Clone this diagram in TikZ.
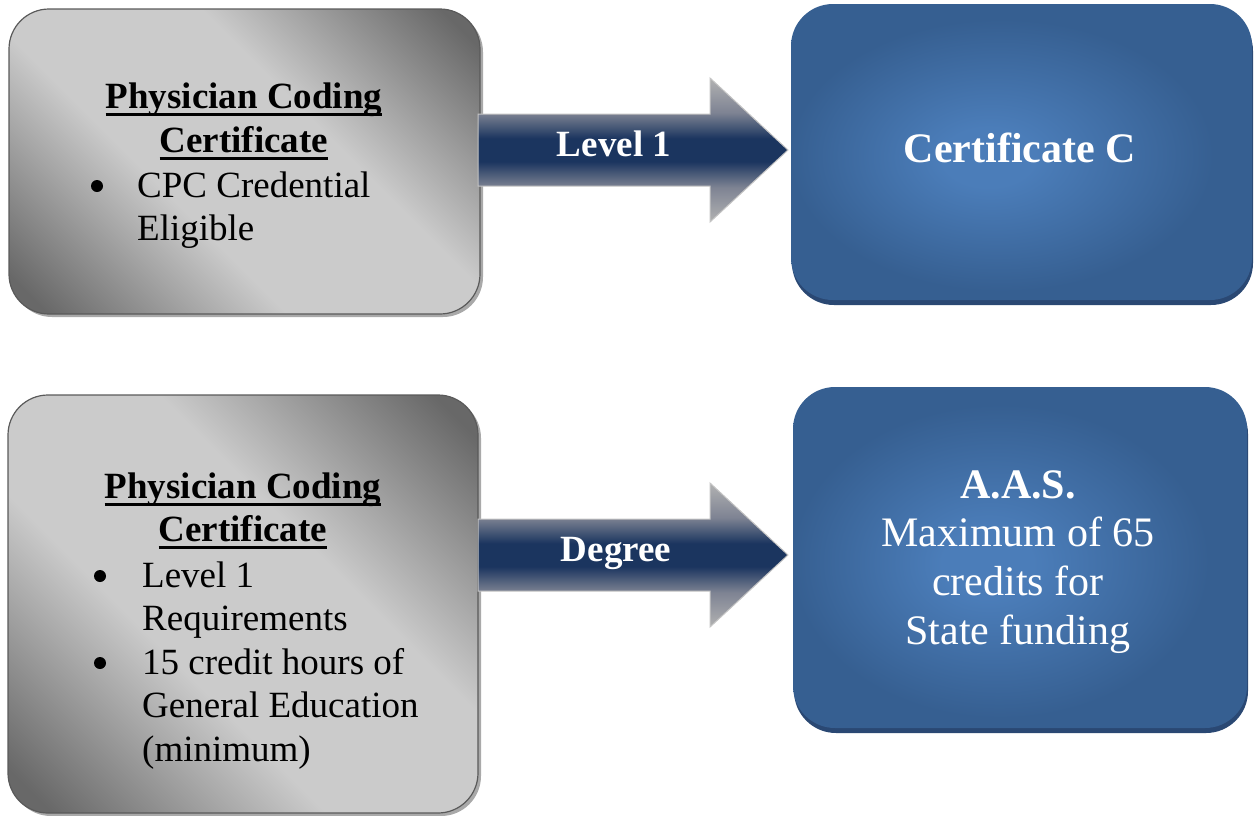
\documentclass[tikz,border=0pt]{standalone}
\usepackage{fontspec}
\setmainfont{Liberation Serif}
\usetikzlibrary{shadows}
\definecolor{gdark}{HTML}{686868}
\definecolor{glight}{HTML}{CBCBCB}
\definecolor{gborder}{HTML}{5A5A5A}
\definecolor{gshadow}{HTML}{A9A9A9}
\definecolor{binner}{HTML}{4B7DB9}
\definecolor{bouter}{HTML}{365F91}
\definecolor{bshadow}{HTML}{2A4873}
\definecolor{navy}{HTML}{1B355F}
\definecolor{agray}{HTML}{B2B2B2}
\definecolor{amid}{HTML}{7E8393}
\definecolor{aborder}{HTML}{C4C4C4}
\pgfdeclareverticalshading{grayshade}{100bp}{color(0bp)=(gdark); color(18bp)=(gdark); color(40bp)=(glight); color(60bp)=(glight); color(82bp)=(gdark); color(100bp)=(gdark)}
\pgfdeclareverticalshading{arrowshade}{100bp}{color(0bp)=(agray); color(25bp)=(agray); color(37bp)=(amid); color(46bp)=(navy); color(54bp)=(navy); color(63bp)=(amid); color(75bp)=(agray); color(100bp)=(agray)}
\pgfdeclareradialshading{blueshade}{\pgfpoint{-4bp}{-1bp}}{color(0bp)=(binner); color(5bp)=(binner); color(23bp)=(bouter); color(50bp)=(bouter)}
\tikzset{
  graybox/.style={shade, shading=grayshade, shading angle=-45, draw=gborder, line width=1.2pt,
    rounded corners=40pt, inner sep=0pt,
    drop shadow={shadow xshift=3pt, shadow yshift=-3pt, fill=gshadow, opacity=1}},
  bluebox/.style={shade, shading=blueshade, draw=none, rounded corners=42pt, inner sep=0pt,
    drop shadow={shadow xshift=1pt, shadow yshift=-5pt, fill=bshadow, opacity=1}},
  blockarrow/.style={shade, shading=arrowshade, draw=aborder, line width=1pt},
  hd/.style={anchor=base, inner sep=0pt, font=\fontsize{37}{43}\selectfont\bfseries},
  bul/.style={circle, fill=black, inner sep=0pt, minimum size=12pt},
  item/.style={anchor=base west, inner sep=0pt, font=\fontsize{37}{43}\selectfont},
  albl/.style={anchor=base, inner sep=0pt, text=white, font=\fontsize{37}{43}\selectfont\bfseries},
  wbold/.style={anchor=base, inner sep=0pt, text=white, font=\fontsize{42}{48}\selectfont\bfseries},
  wreg/.style={anchor=base, inner sep=0pt, text=white, font=\fontsize{42}{48}\selectfont},
  uline/.style={line width=3pt}
}
\begin{document}
\begin{tikzpicture}[x=1pt,y=1pt]
\useasboundingbox (0,0) rectangle (1256,-815);
% boxes
\node[graybox, minimum width=471pt, minimum height=305pt] (tl) at (244.5,-161.5) {};
\node[graybox, minimum width=470pt, minimum height=418pt] (bl) at (243,-604) {};
\node[bluebox, minimum width=461pt, minimum height=296pt] (tr) at (1021.5,-152) {};
\node[bluebox, minimum width=454pt, minimum height=341pt] (br) at (1020,-557.5) {};
% arrows
\coordinate (a1) at (478,-150);
\coordinate (a2) at (478,-555);
\shade[blockarrow] ([yshift=36]a1) -- ++(232,0) -- ++(0,36) -- (788,-150) -- (710,-222) -- ++(0,36) -- ([yshift=-36]a1) -- cycle;
\shade[blockarrow] ([yshift=36]a2) -- ++(232,0) -- ++(0,36) -- (788,-555) -- (710,-627) -- ++(0,36) -- ([yshift=-36]a2) -- cycle;
\node[albl] (lv) at (614,-156) {Level 1};
\node[albl] (dg) at (616,-561) {Degree};
% top-left text
\node[hd] (tl1) at (244,-108) {Physician Coding};
\node[hd] (tl2) at (244,-152) {Certificate};
\draw[uline] ([yshift=-6pt]tl1.base west) -- ([yshift=-6pt]tl1.base east);
\draw[uline] ([yshift=-6pt]tl2.base west) -- ([yshift=-6pt]tl2.base east);
\node[bul] (tlb1) at (97,-186) {};
\node[item] (tlt1) at (137,-197) {CPC Credential};
\node[item] (tlt2) at (137,-240) {Eligible};
% bottom-left text
\node[hd] (bl1) at (243,-498) {Physician Coding};
\node[hd] (bl2) at (243,-541) {Certificate};
\draw[uline] ([yshift=-6pt]bl1.base west) -- ([yshift=-6pt]bl1.base east);
\draw[uline] ([yshift=-6pt]bl2.base west) -- ([yshift=-6pt]bl2.base east);
\node[bul] (blb1) at (100,-576) {};
\node[item] (blt1) at (142,-587) {Level 1};
\node[item] (blt2) at (142,-630) {Requirements};
\node[bul] (blb2) at (100,-663) {};
\node[item] (blt3) at (142,-674) {15 credit hours of};
\node[item] (blt4) at (142,-717) {General Education};
\node[item] (blt5) at (142,-761) {(minimum)};
% right text
\node[wbold] (cc) at (1020,-162) {Certificate C};
\node[wbold] (aas) at (1018,-498) {A.A.S.};
\node[wreg] (r1) at (1018,-546) {Maximum of 65};
\node[wreg] (r2) at (1018,-595) {credits for};
\node[wreg] (r3) at (1018,-644) {State funding};
\end{tikzpicture}
\end{document}
